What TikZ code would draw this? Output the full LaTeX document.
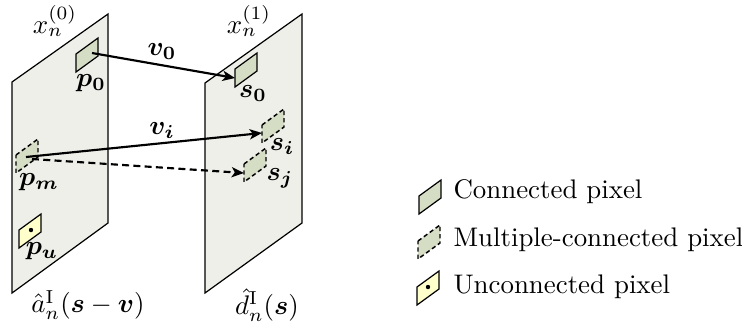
\documentclass[tikz,border=0pt]{standalone}
\usepackage{amsmath,amssymb,bm}
\usetikzlibrary{arrows.meta}
\definecolor{planefill}{HTML}{EFEFE9}
\definecolor{pixfill}{HTML}{D6DDC5}
\definecolor{unfill}{HTML}{FFFFCC}
\tikzset{
  plane/.style={draw=black, fill=planefill, line width=0.45pt},
  pixbox/.style={draw=black, fill=pixfill, line width=0.45pt},
  mpixbox/.style={draw=black, fill=pixfill, line width=0.55pt, dash pattern=on 1.6pt off 1.1pt},
  upixbox/.style={draw=black, fill=unfill, line width=0.45pt},
  motion/.style={line width=0.8pt, -{Stealth[length=4.6pt,width=3.8pt,inset=1.2pt]}},
  dmotion/.style={motion, dash pattern=on 2.6pt off 1.6pt},
  lbl/.style={inner sep=0pt, font=\normalsize},
  legtext/.style={anchor=base west, inner sep=0pt}
}
\newcommand{\pixshape}[2]{(#1,#2) -- ++(22,-16) -- ++(0,18) -- ++(-22,16) -- cycle}
\begin{document}
\begin{tikzpicture}[x=0.372pt, y=-0.372pt]
\useasboundingbox (0,0) rectangle (742,326);
% planes
\draw[plane] (12,82) coordinate (Ltl) -- (108,14) coordinate (Ltr) -- (108,223) coordinate (Lbr) -- (12,293) coordinate (Lbl) -- cycle;
\draw[plane] (205,83) coordinate (Rtl) -- (302,14) coordinate (Rtr) -- (302,223) coordinate (Rbr) -- (205,293) coordinate (Rbl) -- cycle;
% pixels
\draw[pixbox] \pixshape{76}{54};
\draw[pixbox] \pixshape{235}{69};
\draw[mpixbox] \pixshape{262}{125};
\draw[mpixbox] \pixshape{244}{164};
\draw[mpixbox] \pixshape{16}{155};
\draw[upixbox] \pixshape{19}{230};
\fill (31,230) circle[radius=2.2];
% connector end points
\coordinate (p0c) at (92,53);
\coordinate (s0w) at (235,78);
\coordinate (pmc) at (26,157);
\coordinate (pmd) at (32,159);
\coordinate (siw) at (262,133);
\coordinate (sjw) at (244,173);
% arrows
\draw[motion] (p0c) -- (s0w);
\draw[motion] (pmc) -- (siw);
\draw[dmotion] (pmd) -- (sjw);
% labels
\node[lbl] (x0) at (55,21) {$x_n^{(0)}$};
\node[lbl] (x1) at (249,21) {$x_n^{(1)}$};
\node[lbl] (p0) at (91,83) {$\boldsymbol{p_0}$};
\node[lbl] (v0) at (162,52) {$\boldsymbol{v_0}$};
\node[lbl] (vi) at (162,131) {$\boldsymbol{v_i}$};
\node[lbl] (pm) at (39,182) {$\boldsymbol{p_m}$};
\node[lbl] (pu) at (42,251) {$\boldsymbol{p_u}$};
\node[lbl] (a) at (88,305) {$\hat{a}_n^{\mathrm{I}}(\boldsymbol{s}-\boldsymbol{v})$};
\node[lbl] (s0) at (253,94) {$\boldsymbol{s_0}$};
\node[lbl] (si) at (282,147) {$\boldsymbol{s_i}$};
\node[lbl] (sj) at (280,178) {$\boldsymbol{s_j}$};
\node[lbl] (d) at (267,305) {$\hat{d}_n^{\mathrm{I}}(\boldsymbol{s})$};
% legend
\draw[pixbox] \pixshape{419}{196};
\draw[mpixbox] \pixshape{418}{241};
\draw[upixbox] \pixshape{417}{287};
\fill (428,287) circle[radius=2.2];
\node[legtext] (l1) at (453,198) {Connected pixel};
\node[legtext] (l2) at (453,246) {Multiple-connected pixel};
\node[legtext] (l3) at (453,293) {Unconnected pixel};
\end{tikzpicture}
\end{document}
